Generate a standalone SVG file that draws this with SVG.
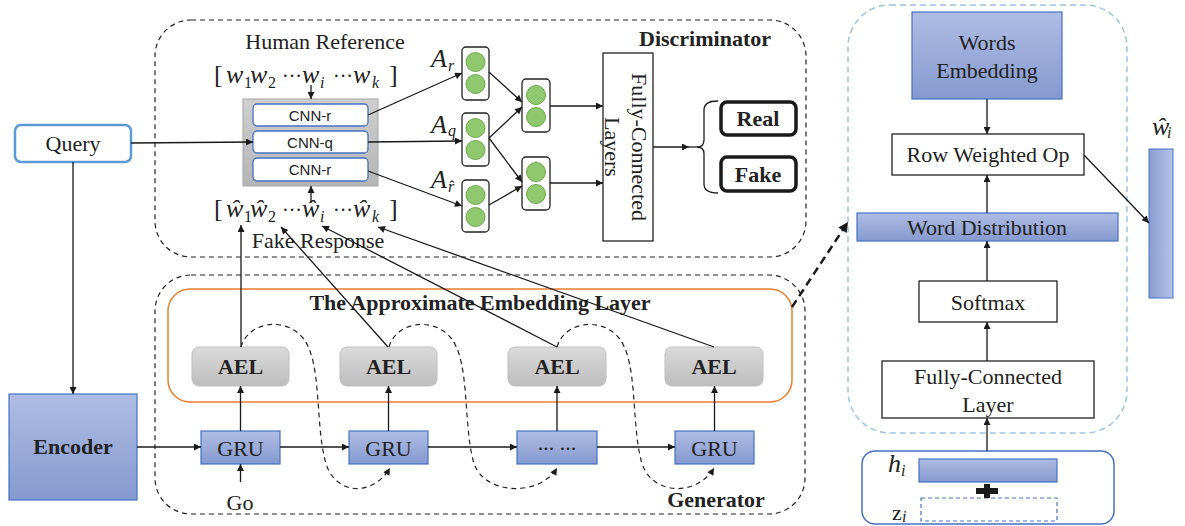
<svg xmlns="http://www.w3.org/2000/svg" width="1185" height="526" viewBox="0 0 1185 526">
<defs>
<linearGradient id="gBlue" x1="0" y1="0" x2="0" y2="1"><stop offset="0" stop-color="#AFBDE4"/><stop offset="1" stop-color="#8499CF"/></linearGradient>
<linearGradient id="gBlueH" x1="0" y1="0" x2="1" y2="0"><stop offset="0" stop-color="#8A9DD4"/><stop offset="1" stop-color="#B5C3E9"/></linearGradient>
<linearGradient id="gGrey" x1="0" y1="0" x2="0" y2="1"><stop offset="0" stop-color="#DADADA"/><stop offset="1" stop-color="#BDBDBD"/></linearGradient>
<linearGradient id="gCnn" x1="0" y1="0" x2="0" y2="1"><stop offset="0" stop-color="#CFCFCF"/><stop offset="1" stop-color="#B5B5B5"/></linearGradient>
<marker id="arr" viewBox="0 0 10 10" refX="10" refY="5" markerWidth="9" markerHeight="7" markerUnits="userSpaceOnUse" orient="auto"><path d="M0,0 L10,5 L0,10 z" fill="#1a1a1a"/></marker>
<marker id="arrB" viewBox="0 0 10 10" refX="10" refY="5" markerWidth="12" markerHeight="10" markerUnits="userSpaceOnUse" orient="auto"><path d="M0,0 L10,5 L0,10 z" fill="#1a1a1a"/></marker>
<style>
text{font-family:"Liberation Serif","Times New Roman",serif;fill:#222;font-size:22px}
.b{font-weight:bold}
.c{text-anchor:middle}
.sans{font-family:"Liberation Sans",Arial,sans-serif;font-size:15px}
.m{font-style:italic;font-size:26px}
.up{font-style:normal}
.dots{font-style:normal;font-size:20px}
.sub{font-style:normal;font-size:16px}
.subi{font-style:italic;font-size:16px}
.ln{stroke:#1a1a1a;stroke-width:1.3;fill:none}
.dash{stroke:#222;stroke-width:1.2;fill:none;stroke-dasharray:5 4}
.blue{fill:url(#gBlue);stroke:#4472C4;stroke-width:1.2}
.ael{fill:url(#gGrey);stroke:#BFBFBF;stroke-width:1}
.wb{fill:#fff;stroke:#222;stroke-width:1.3}
.cb{fill:#fff;stroke:#222;stroke-width:1.3}
.dot{fill:#8FC86E;stroke:#6AAA4A;stroke-width:1}
.cnn{fill:#fff;stroke:#4472C4;stroke-width:1.3}
.rf{fill:#fff;stroke:#1a1a1a;stroke-width:3.5}
</style>
</defs>

<!-- containers -->
<g id="discriminator-frame">
<rect x="155" y="20" width="651" height="237" rx="36" class="dash"/>
<text x="705" y="46" class="b c">Discriminator</text>
</g>
<g id="generator-frame">
<rect x="155" y="275" width="650" height="239" rx="36" class="dash"/>
<text x="716" y="507" class="b c">Generator</text>
</g>
<g id="ael-layer">
<rect x="168" y="289" width="624" height="113" rx="22" fill="none" stroke="#ED7D31" stroke-width="1.5"/>
<text x="480" y="310" class="b c">The Approximate Embedding Layer</text>
</g>
<g id="ael-detail-frame">
<rect x="848" y="5" width="279" height="428" rx="42" fill="none" stroke="#9DC3E6" stroke-width="1.5" stroke-dasharray="6 4"/>
</g>

<!-- nodes -->
<g id="query"><rect x="15" y="125" width="116" height="37" rx="6" fill="#fff" stroke="#5B9BD5" stroke-width="2.5"/><text x="73" y="151" class="c">Query</text></g>
<g id="encoder"><rect x="9" y="394" width="128" height="106" class="blue"/><text x="73" y="454" class="b c">Encoder</text></g>

<g id="human-ref">
<text x="325" y="49" class="c">Human Reference</text>
<text class="m" y="83"><tspan x="214" class="up">[</tspan><tspan x="226">w</tspan><tspan x="244" dy="5" class="sub">1</tspan><tspan x="250" dy="-5">w</tspan><tspan x="268" dy="5" class="sub">2</tspan><tspan x="282" dy="-5" class="dots">···</tspan><tspan x="302">w</tspan><tspan x="320" dy="5" class="subi">i</tspan><tspan x="333" dy="-5" class="dots">···</tspan><tspan x="353">w</tspan><tspan x="372" dy="5" class="subi">k</tspan><tspan x="389" dy="-5" class="up">]</tspan></text>
</g>
<g id="fake-resp">
<text class="m" y="217"><tspan x="214" class="up">[</tspan><tspan x="226">ŵ</tspan><tspan x="244" dy="5" class="sub">1</tspan><tspan x="250" dy="-5">ŵ</tspan><tspan x="268" dy="5" class="sub">2</tspan><tspan x="282" dy="-5" class="dots">···</tspan><tspan x="302">ŵ</tspan><tspan x="320" dy="5" class="subi">i</tspan><tspan x="333" dy="-5" class="dots">···</tspan><tspan x="353">ŵ</tspan><tspan x="372" dy="5" class="subi">k</tspan><tspan x="389" dy="-5" class="up">]</tspan></text>
<text x="318" y="248" class="c">Fake Response</text>
</g>

<g id="cnn">
<rect x="243" y="99" width="135" height="87" fill="url(#gCnn)" stroke="#A6A6A6" stroke-width="1"/>
<rect x="253" y="104" width="115" height="22" rx="4" class="cnn"/><text x="310" y="121" class="sans c">CNN-r</text>
<rect x="253" y="131" width="115" height="22" rx="4" class="cnn"/><text x="310" y="148" class="sans c">CNN-q</text>
<rect x="253" y="158" width="115" height="23" rx="4" class="cnn"/><text x="310" y="175" class="sans c">CNN-r</text>
</g>

<g id="labels-A">
<text class="m" y="67" font-size="22"><tspan x="431">A</tspan><tspan x="448" dy="4" class="subi">r</tspan></text>
<text class="m" y="133" font-size="22"><tspan x="431">A</tspan><tspan x="448" dy="3" class="subi">q</tspan></text>
<text class="m" y="188" font-size="22"><tspan x="431">A</tspan><tspan x="448" dy="4" class="subi">r̂</tspan></text>
</g>

<g id="vec-r"><rect x="462" y="47" width="27" height="53" rx="4" class="cb"/><circle cx="475.5" cy="62" r="9.5" class="dot"/><circle cx="475.5" cy="84" r="9.5" class="dot"/></g>
<g id="vec-q"><rect x="462" y="113" width="27" height="53" rx="4" class="cb"/><circle cx="475.5" cy="128" r="9.5" class="dot"/><circle cx="475.5" cy="150" r="9.5" class="dot"/></g>
<g id="vec-rh"><rect x="462" y="180" width="27" height="52" rx="4" class="cb"/><circle cx="475.5" cy="195" r="9.5" class="dot"/><circle cx="475.5" cy="217" r="9.5" class="dot"/></g>
<g id="vec-a"><rect x="522" y="79" width="28" height="53" rx="4" class="cb"/><circle cx="536" cy="95" r="9.5" class="dot"/><circle cx="536" cy="117" r="9.5" class="dot"/></g>
<g id="vec-b"><rect x="522" y="157" width="28" height="53" rx="4" class="cb"/><circle cx="536" cy="172" r="9.5" class="dot"/><circle cx="536" cy="194" r="9.5" class="dot"/></g>

<g id="fc-layers">
<rect x="603" y="53" width="50" height="188" fill="#fff" stroke="#222" stroke-width="1.3"/>
<text transform="translate(632,147) rotate(90)" class="c">Fully-Connected</text>
<text transform="translate(605,147) rotate(90)" class="c">Layers</text>
</g>
<g id="real"><rect x="721" y="102" width="75" height="33" rx="6" class="rf"/><text x="758" y="126" class="b c">Real</text></g>
<g id="fake"><rect x="721" y="157" width="75" height="34" rx="6" class="rf"/><text x="758" y="182" class="b c">Fake</text></g>

<g id="gru1"><rect x="201" y="431" width="79" height="33" class="blue"/><text x="240.5" y="456" class="c">GRU</text></g>
<g id="gru2"><rect x="349" y="431" width="79" height="33" class="blue"/><text x="388.5" y="456" class="c">GRU</text></g>
<g id="gru3"><rect x="517" y="431" width="80" height="33" class="blue"/><text x="557" y="450" class="c" font-size="18">... ...</text></g>
<g id="gru4"><rect x="675" y="431" width="79" height="33" class="blue"/><text x="714.5" y="456" class="c">GRU</text></g>
<g id="ael1"><rect x="192" y="347" width="97" height="39" rx="7" class="ael"/><text x="240.5" y="374" class="b c">AEL</text></g>
<g id="ael2"><rect x="340" y="347" width="97" height="39" rx="7" class="ael"/><text x="388.5" y="374" class="b c">AEL</text></g>
<g id="ael3"><rect x="508" y="347" width="98" height="39" rx="7" class="ael"/><text x="557" y="374" class="b c">AEL</text></g>
<g id="ael4"><rect x="665" y="347" width="98" height="39" rx="7" class="ael"/><text x="714" y="374" class="b c">AEL</text></g>
<g id="go"><text x="240" y="510" class="c">Go</text></g>

<!-- right panel -->
<g id="words-emb"><rect x="912" y="12" width="150" height="87" class="blue"/><text x="987" y="50" class="c">Words</text><text x="987" y="78" class="c">Embedding</text></g>
<g id="row-op"><rect x="892" y="134" width="192" height="41" class="wb"/><text x="988" y="162" class="c">Row Weighted Op</text></g>
<g id="word-dist"><rect x="857" y="213" width="261" height="28" class="blue"/><text x="987" y="235" class="c">Word Distribution</text></g>
<g id="softmax"><rect x="919" y="281" width="138" height="41" class="wb"/><text x="988" y="310" class="c">Softmax</text></g>
<g id="fc-layer"><rect x="882" y="361" width="212" height="57" class="wb"/><text x="988" y="384" class="c">Fully-Connected</text><text x="988" y="412" class="c">Layer</text></g>
<g id="input-hz">
<rect x="862" y="451" width="252" height="73" rx="13" fill="#fff" stroke="#4472C4" stroke-width="1.5"/>
<rect x="919" y="459" width="138" height="23" class="blue"/>
<rect x="921" y="498" width="136" height="23" fill="none" stroke="#4472C4" stroke-width="1.2" stroke-dasharray="4 3"/>
<path d="M984,484 h6 v4 h8 v6 h-8 v4 h-6 v-4 h-8 v-6 h8 z" fill="#1a1a1a"/>
<text class="m" y="472" font-size="22"><tspan x="888">h</tspan><tspan x="901" dy="4" class="subi">i</tspan></text>
<text y="520" font-size="22"><tspan x="892">z</tspan><tspan x="902" dy="2" class="subi">i</tspan></text>
</g>
<g id="what-i">
<text class="m" y="135" font-size="22"><tspan x="1152">ŵ</tspan><tspan x="1167" dy="3" class="subi">i</tspan></text>
<rect x="1149" y="149" width="24" height="149" fill="url(#gBlueH)" stroke="#4472C4" stroke-width="1"/>
</g>

<!-- connectors -->
<g id="connectors">
<line x1="131" y1="143" x2="253" y2="142" class="ln" marker-end="url(#arr)"/>
<line x1="73" y1="162" x2="73" y2="394" class="ln" marker-end="url(#arr)"/>
<line x1="311" y1="85" x2="311" y2="99" class="ln" marker-end="url(#arr)"/>
<line x1="311" y1="203" x2="311" y2="186" class="ln" marker-end="url(#arr)"/>
<line x1="368" y1="115" x2="462" y2="73" class="ln" marker-end="url(#arr)"/>
<line x1="368" y1="142" x2="462" y2="141" class="ln" marker-end="url(#arr)"/>
<line x1="368" y1="171" x2="462" y2="206" class="ln" marker-end="url(#arr)"/>
<line x1="489" y1="72" x2="522" y2="102" class="ln" marker-end="url(#arr)"/>
<line x1="489" y1="138" x2="522" y2="107" class="ln" marker-end="url(#arr)"/>
<line x1="489" y1="138" x2="522" y2="182" class="ln" marker-end="url(#arr)"/>
<line x1="489" y1="205" x2="522" y2="186" class="ln" marker-end="url(#arr)"/>
<line x1="550" y1="106" x2="603" y2="106" class="ln" marker-end="url(#arr)"/>
<line x1="550" y1="183" x2="603" y2="183" class="ln" marker-end="url(#arr)"/>
<line x1="653" y1="147" x2="689" y2="147" class="ln" marker-end="url(#arr)"/>
<line x1="689" y1="147" x2="697" y2="147" class="ln"/>
<path d="M718,101 Q704,101 704,110 L704,140 Q704,147 697,147 Q704,147 704,154 L704,184 Q704,193 718,193" class="ln"/>
<line x1="137" y1="447" x2="201" y2="447" class="ln" marker-end="url(#arr)"/>
<line x1="280" y1="447" x2="349" y2="447" class="ln" marker-end="url(#arr)"/>
<line x1="428" y1="447" x2="517" y2="447" class="ln" marker-end="url(#arr)"/>
<line x1="597" y1="447" x2="675" y2="447" class="ln" marker-end="url(#arr)"/>
<line x1="240.5" y1="482" x2="240.5" y2="464" class="ln" marker-end="url(#arr)"/>
<line x1="240.5" y1="431" x2="240.5" y2="386" class="ln" marker-end="url(#arr)"/>
<line x1="388.5" y1="431" x2="388.5" y2="386" class="ln" marker-end="url(#arr)"/>
<line x1="557" y1="431" x2="557" y2="386" class="ln" marker-end="url(#arr)"/>
<line x1="714.5" y1="431" x2="714.5" y2="386" class="ln" marker-end="url(#arr)"/>
<line x1="241" y1="347" x2="241" y2="225" class="ln" marker-end="url(#arr)"/>
<line x1="388" y1="347" x2="281" y2="227" class="ln" marker-end="url(#arr)"/>
<line x1="557" y1="347" x2="322" y2="226" class="ln" marker-end="url(#arr)"/>
<line x1="714" y1="347" x2="378" y2="227" class="ln" marker-end="url(#arr)"/>
<path d="M241,347 C248,322 285,316 303,338 C322,362 315,420 325,460 C333,495 372,498 390,468" class="dash" marker-end="url(#arr)"/>
<path d="M389,347 C396,322 433,316 451,338 C470,362 463,420 473,460 C481,495 539,498 557,468" class="dash" marker-end="url(#arr)"/>
<path d="M557,347 C564,322 601,316 619,338 C638,362 631,420 641,460 C649,495 696,498 714,468" class="dash" marker-end="url(#arr)"/>
<line x1="792" y1="307" x2="848" y2="222" stroke="#1a1a1a" stroke-width="2.5" stroke-dasharray="8 5" marker-end="url(#arrB)"/>
<line x1="987" y1="99" x2="987" y2="134" class="ln" marker-end="url(#arr)"/>
<line x1="987" y1="213" x2="987" y2="175" class="ln" marker-end="url(#arr)"/>
<line x1="987" y1="281" x2="987" y2="241" class="ln" marker-end="url(#arr)"/>
<line x1="987" y1="361" x2="987" y2="322" class="ln" marker-end="url(#arr)"/>
<line x1="987" y1="451" x2="987" y2="418" class="ln" marker-end="url(#arr)"/>
<line x1="1084" y1="155" x2="1149" y2="223" class="ln" marker-end="url(#arr)"/>
</g>
</svg>
